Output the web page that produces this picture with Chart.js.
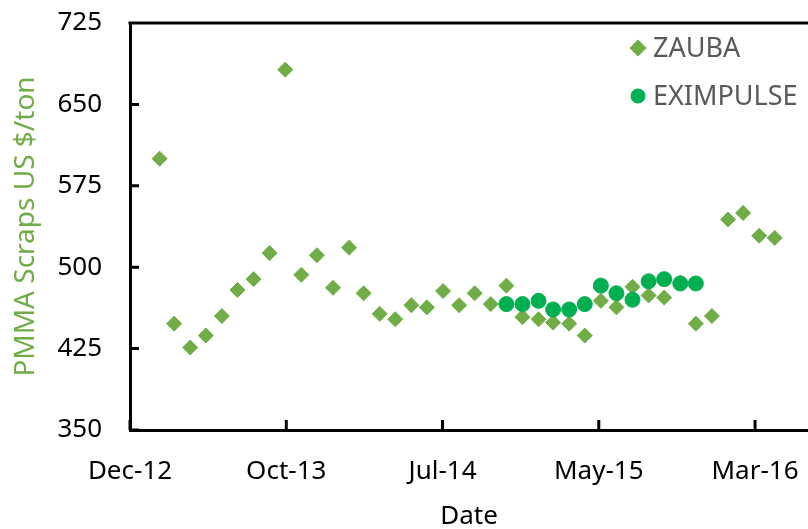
<!DOCTYPE html>
<html>
<head>
<meta charset="utf-8">
<script src="https://cdn.jsdelivr.net/npm/chart.js@4/dist/chart.umd.min.js"></script>
<style>
  html,body{margin:0;padding:0;background:#fff;overflow:hidden;}
  #chart{display:block;}
</style>
</head>
<body>
<canvas id="chart" width="808" height="529"></canvas>
<script>
// month-end dates of the ZAUBA series
const zaubaMonths=["2013-01","2013-02","2013-03","2013-04","2013-05","2013-06","2013-07","2013-08","2013-09","2013-10",
  "2013-11","2013-12","2014-01","2014-02","2014-03","2014-04","2014-05","2014-06","2014-07","2014-08",
  "2014-09","2014-10","2014-11","2014-12","2015-01","2015-02","2015-03","2015-04","2015-05","2015-06",
  "2015-07","2015-08","2015-09","2015-10","2015-11","2015-12","2016-01","2016-02","2016-03","2016-04"];
const zaubaValues=[600,448,426,437,455,479,489,513,682,493,
  511,481,518,476,457,452,465,463,478,465,
  476,466,483,454,452,449,448,437,469,463,
  482,474,472,486,448,455,544,550,529,527];

const eximMonths=["2014-11","2014-12","2015-01","2015-02","2015-03","2015-04","2015-05","2015-06","2015-07","2015-08","2015-09","2015-10","2015-11"];
const eximValues=[466,466,469,461,461,466,483,476,470,487,489,485,485];

const xTickLabels=["Dec-12","Oct-13","Jul-14","May-15","Mar-16"];
const yTicks=[350,425,500,575,650,725];

// x axis is in days counted from the first tick date
const axisStart=Date.UTC(2012,11,5);
const tickDays=301;
const axisDays=1306;

function dayOf(m){
  const [y,mo]=m.split("-").map(Number);
  return (Date.UTC(y,mo,0)-axisStart)/864e5;
}
function toPoints(months,values){
  return months.map((m,i)=>({x:dayOf(m),y:values[i]}));
}

const FONT="'Noto Sans', 'Open Sans', sans-serif";

const framePlugin={
  id:"frame",
  afterDraw(chart){
    const ctx=chart.ctx;
    const a=chart.chartArea;
    const xs=chart.scales.x, ys=chart.scales.y;
    ctx.save();
    ctx.strokeStyle="#000";
    ctx.lineWidth=3;
    ctx.beginPath();
    ctx.moveTo(a.left-1.5,a.top);
    ctx.lineTo(chart.width,a.top);
    // inner tick marks
    ys.ticks.forEach(t=>{
      const py=ys.getPixelForValue(t.value);
      ctx.moveTo(a.left,py);ctx.lineTo(a.left+9,py);
    });
    xs.ticks.forEach(t=>{
      const px=xs.getPixelForValue(t.value);
      ctx.moveTo(px,a.bottom);ctx.lineTo(px,a.bottom-10);
    });
    ctx.stroke();
    // legend inside the plot
    ctx.font="27px "+FONT;
    ctx.textBaseline="middle";
    ctx.textAlign="left";
    chart.data.datasets.forEach((ds,i)=>{
      const lx=a.right-170, ly=a.top+25+i*48;
      ctx.fillStyle=ds.backgroundColor;
      ctx.strokeStyle=ds.borderColor;
      Chart.helpers.drawPoint(ctx,{pointStyle:ds.pointStyle,radius:ds.legendRadius,rotation:0,borderWidth:1},lx,ly);
      ctx.fillStyle="#595959";
      ctx.fillText(ds.label,lx+15,ly+1);
    });
    ctx.restore();
  }
};

new Chart(document.getElementById("chart"),{
  type:"scatter",
  data:{
    datasets:[
      {label:"ZAUBA",data:toPoints(zaubaMonths,zaubaValues),pointStyle:"rectRot",pointRadius:7.5,pointHoverRadius:7.5,
       backgroundColor:"#70AD47",borderColor:"#70AD47",borderWidth:1,legendRadius:6.5,order:2},
      {label:"EXIMPULSE",data:toPoints(eximMonths,eximValues),pointStyle:"circle",pointRadius:7.5,pointHoverRadius:7.5,
       backgroundColor:"#00B050",borderColor:"#00B050",borderWidth:1,legendRadius:6,order:1}
    ]
  },
  options:{
    responsive:false,
    animation:false,
    layout:{autoPadding:false,padding:{top:23,right:0,left:0,bottom:0}},
    plugins:{legend:{display:false},tooltip:{enabled:false}},
    scales:{
      x:{
        type:"linear",min:0,max:axisDays,
        afterBuildTicks(s){s.ticks=xTickLabels.map((_,i)=>({value:i*tickDays}));},
        afterFit(s){s.height=99;s.paddingLeft=0;s.paddingRight=0;},
        grid:{display:false,drawTicks:false},
        border:{display:true,color:"#000",width:3},
        ticks:{padding:26,color:"#000",font:{family:FONT,size:26},maxRotation:0,autoSkip:false,
          callback:(v,i)=>xTickLabels[i]},
        title:{display:true,text:"Date",color:"#000",font:{family:FONT,size:26},padding:{top:0,bottom:-3}}
      },
      y:{
        min:350,max:725,
        afterBuildTicks(s){s.ticks=yTicks.map(v=>({value:v}));},
        afterFit(s){s.width=130;s.paddingTop=0;s.paddingBottom=0;},
        grid:{display:false,drawTicks:false},
        border:{display:true,color:"#000",width:3},
        ticks:{padding:28,color:"#000",font:{family:FONT,size:26}},
        title:{display:true,text:"PMMA Scraps US $/ton",color:"#70AD47",font:{family:FONT,size:28},padding:{top:9,bottom:0}}
      }
    }
  },
  plugins:[framePlugin]
});
</script>
</body>
</html>
